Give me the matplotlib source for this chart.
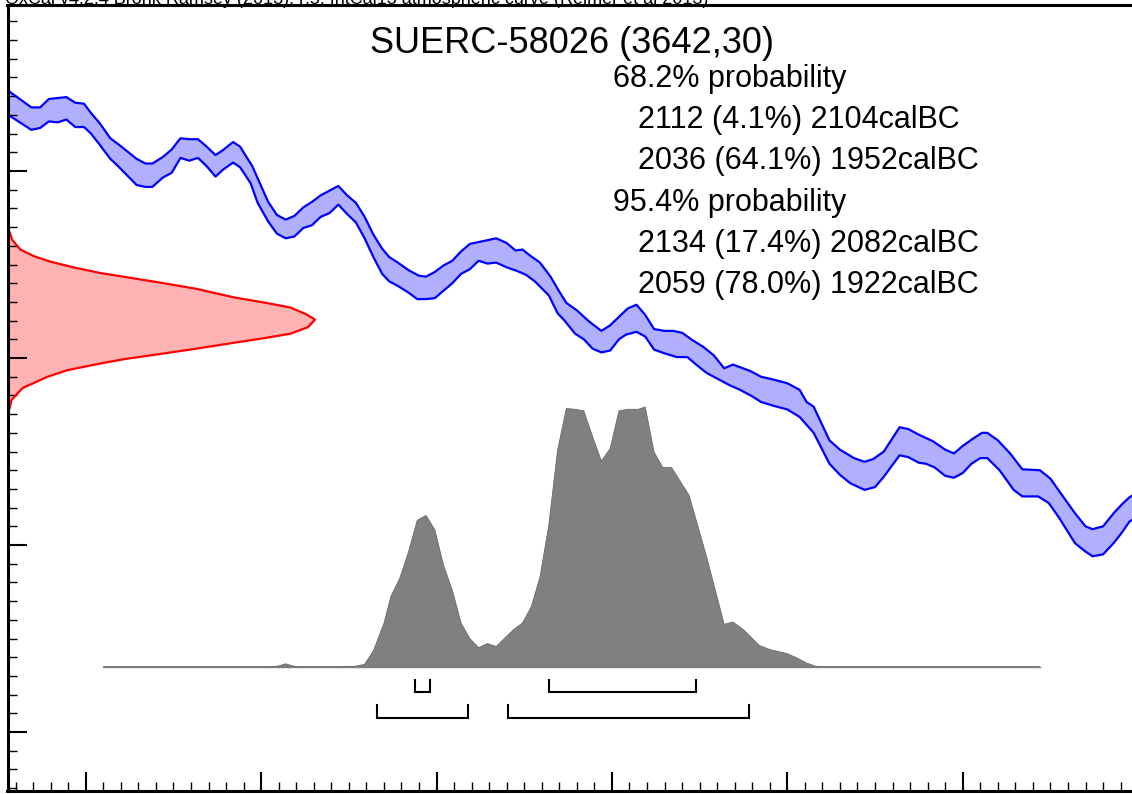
import numpy as np
import matplotlib
matplotlib.use("Agg")
import matplotlib.pyplot as plt
from matplotlib.ticker import MultipleLocator
from matplotlib.transforms import blended_transform_factory

plt.rcParams['font.family'] = ['Liberation Sans', 'DejaVu Sans']

# ================================
# Data
# ================================
lab_code = "SUERC-58026"
c14_age = 3642
c14_err = 30
header = "OxCal v4.2.4 Bronk Ramsey (2013); r:5; IntCal13 atmospheric curve (Reimer et al 2013)"

# IntCal13 band, upper edge (calBC, BP)
upper_bc = [2345, 2331, 2326, 2321, 2311, 2306, 2301, 2297, 2292, 2286,
            2281, 2271, 2266, 2262, 2256, 2251, 2246, 2241, 2236, 2231,
            2226, 2222, 2216, 2212, 2205, 2196, 2191, 2186, 2181, 2176,
            2171, 2166, 2161, 2156, 2151, 2146, 2141, 2136, 2131, 2127,
            2122, 2116, 2110, 2106, 2101, 2096, 2091, 2086, 2081, 2076,
            2071, 2066, 2060, 2055, 2051, 2047, 2041, 2035, 2030, 2026,
            2020, 2013, 2006, 2001, 1991, 1986, 1981, 1976, 1970, 1965,
            1960, 1954, 1948, 1942, 1936, 1931, 1921, 1915, 1908, 1900,
            1893, 1889, 1885, 1876, 1870, 1862, 1856, 1851, 1845, 1836,
            1831, 1825, 1817, 1810, 1805, 1800, 1794, 1789, 1786, 1780,
            1773, 1766, 1756, 1750, 1744, 1736, 1730, 1726, 1720, 1714,
            1709, 1705, 1699]
upper_bp = [3887, 3868, 3868, 3877, 3879, 3873, 3872, 3862, 3851, 3835,
            3828, 3813, 3808, 3808, 3815, 3823, 3835, 3834, 3834, 3826,
            3817, 3822, 3831, 3826, 3805, 3767, 3753, 3748, 3752, 3761,
            3767, 3774, 3779, 3784, 3774, 3766, 3751, 3732, 3717, 3708,
            3702, 3694, 3688, 3687, 3692, 3699, 3704, 3714, 3722, 3724,
            3726, 3728, 3723, 3715, 3716, 3710, 3702, 3687, 3671, 3659,
            3651, 3639, 3629, 3635, 3653, 3657, 3646, 3631, 3629, 3629,
            3627, 3619, 3612, 3603, 3589, 3593, 3586, 3580, 3577, 3573,
            3566, 3553, 3548, 3512, 3502, 3493, 3489, 3492, 3500, 3526,
            3524, 3518, 3511, 3502, 3498, 3506, 3514, 3520, 3520, 3512,
            3498, 3481, 3480, 3471, 3455, 3434, 3420, 3417, 3420, 3434,
            3444, 3451, 3458]

# IntCal13 band, lower edge (calBC, BP)
lower_bc = [2345, 2331, 2326, 2321, 2316, 2311, 2306, 2301, 2297, 2292,
            2286, 2282, 2271, 2266, 2262, 2256, 2251, 2246, 2241, 2236,
            2231, 2226, 2222, 2216, 2212, 2206, 2202, 2196, 2191, 2186,
            2181, 2176, 2171, 2166, 2161, 2156, 2151, 2146, 2141, 2136,
            2131, 2127, 2122, 2116, 2111, 2106, 2101, 2096, 2091, 2086,
            2081, 2076, 2071, 2066, 2060, 2054, 2049, 2044, 2036, 2031,
            2027, 2021, 2016, 2011, 2006, 2001, 1996, 1992, 1986, 1981,
            1976, 1970, 1963, 1957, 1952, 1946, 1940, 1933, 1927, 1920,
            1915, 1908, 1900, 1893, 1885, 1876, 1870, 1864, 1856, 1850,
            1845, 1836, 1831, 1825, 1821, 1816, 1810, 1805, 1800, 1795,
            1790, 1786, 1779, 1771, 1766, 1757, 1751, 1745, 1736, 1730,
            1726, 1720, 1714, 1709, 1705, 1699]
lower_bp = [3861, 3844, 3846, 3853, 3852, 3855, 3847, 3847, 3840, 3828,
            3813, 3806, 3785, 3783, 3783, 3793, 3798, 3814, 3811, 3814,
            3805, 3794, 3801, 3809, 3804, 3787, 3766, 3746, 3733, 3728,
            3730, 3739, 3742, 3751, 3755, 3764, 3754, 3745, 3728, 3708,
            3690, 3682, 3677, 3670, 3663, 3663, 3664, 3672, 3680, 3690,
            3695, 3704, 3701, 3702, 3697, 3693, 3689, 3682, 3667, 3648,
            3640, 3626, 3620, 3610, 3606, 3608, 3620, 3625, 3628, 3623,
            3609, 3605, 3601, 3601, 3593, 3584, 3578, 3571, 3566, 3559,
            3553, 3549, 3545, 3537, 3520, 3487, 3475, 3466, 3459, 3462,
            3473, 3496, 3494, 3488, 3487, 3483, 3474, 3472, 3477, 3487,
            3493, 3493, 3480, 3459, 3452, 3452, 3445, 3429, 3402, 3393,
            3388, 3390, 3402, 3414, 3425, 3432]

# Radiocarbon determination (BP, relative density)
meas_bp = [3523, 3539, 3555, 3562, 3568, 3573, 3580, 3587, 3594, 3599,
           3604, 3610, 3616, 3621, 3626, 3633, 3641, 3647, 3654, 3659,
           3665, 3674, 3681, 3691, 3697, 3703, 3709, 3716, 3726, 3737,
           3746, 3756]
meas_rel = [0.0, 0.001, 0.013, 0.032, 0.049, 0.084, 0.13, 0.195, 0.30, 0.383,
            0.49, 0.614, 0.73, 0.83, 0.92, 0.977, 1.0, 0.97, 0.92, 0.84,
            0.734, 0.614, 0.49, 0.30, 0.214, 0.14, 0.085, 0.042, 0.016, 0.004,
            0.001, 0.0]

# Calibrated distribution (calBC, relative probability)
cal_bc = [2290, 2195, 2190, 2186, 2182, 2178, 2155, 2146, 2141, 2136,
          2130, 2126, 2121, 2116, 2111, 2106, 2101, 2096, 2091, 2086,
          2081, 2076, 2071, 2066, 2060, 2056, 2051, 2046, 2041, 2036,
          2031, 2026, 2021, 2016, 2011, 2006, 2001, 1996, 1991, 1985,
          1981, 1976, 1971, 1966, 1956, 1946, 1936, 1931, 1925, 1916,
          1910, 1900, 1895, 1889, 1884, 1880, 1756]
cal_rel = [0.0, 0.0, 0.004, 0.012, 0.004, 0.0, 0.0, 0.003, 0.01, 0.062,
           0.167, 0.272, 0.34, 0.442, 0.564, 0.583, 0.528, 0.391, 0.295, 0.169,
           0.109, 0.074, 0.09, 0.079, 0.118, 0.144, 0.169, 0.231, 0.346, 0.545,
           0.833, 0.994, 0.991, 0.985, 0.885, 0.792, 0.84, 0.985, 0.991, 0.991,
           1.0, 0.827, 0.767, 0.767, 0.66, 0.423, 0.164, 0.173, 0.143, 0.083,
           0.067, 0.051, 0.036, 0.015, 0.003, 0.0, 0.0]

# Highest posterior density ranges
range68_from = [2112, 2036]
range68_to = [2104, 1952]
range68_pct = [4.1, 64.1]
range95_from = [2134, 2059]
range95_to = [2082, 1922]
range95_pct = [17.4, 78.0]

# ================================
# Figure
# ================================
W, H = 1132, 794
fig = plt.figure(figsize=(W / 100, H / 100), dpi=100)
ax = fig.add_axes([7.5 / W, 3 / H, 1 - 7.5 / W, 786 / H])

# calibration curve band
ax.fill(np.r_[upper_bc, lower_bc[::-1]], np.r_[upper_bp, lower_bp[::-1]],
        color='#b0b0ff', lw=0, zorder=1)
ax.plot(upper_bc, upper_bp, color='#0000ff', lw=1.6, zorder=2)
ax.plot(lower_bc, lower_bp, color='#0000ff', lw=1.6, zorder=2)

# measurement on the y axis
t_meas = blended_transform_factory(ax.transAxes, ax.transData)
meas_x = np.array(meas_rel) * 0.2735
ax.fill(meas_x, meas_bp, transform=t_meas, color='#ffb3b3', lw=0, zorder=1)
ax.plot(meas_x, meas_bp, transform=t_meas, color='#ff0000', lw=1.6, zorder=2)

# calibrated distribution at the bottom
t_cal = blended_transform_factory(ax.transData, ax.transAxes)
base, scale = 0.1578, 0.3308
ax.fill(cal_bc, base + np.array(cal_rel) * scale, transform=t_cal,
        fc='#808080', ec='#6a6a6a', lw=0.6, zorder=1)
ax.plot([cal_bc[0], cal_bc[-1]], [base, base], transform=t_cal,
        color='#808080', lw=1, zorder=1)

# range brackets
for s, e in zip(range68_from, range68_to):
    ax.plot([s, s, e, e], [0.1412, 0.1260, 0.1260, 0.1412], transform=t_cal,
            color='black', lw=1.5, solid_joinstyle='miter')
for s, e in zip(range95_from, range95_to):
    ax.plot([s, s, e, e], [0.1094, 0.0929, 0.0929, 0.1094], transform=t_cal,
            color='black', lw=1.5, solid_joinstyle='miter')

ax.set_xlim(2344.6, 1703.5)
ax.set_ylim(3137, 3977.5)

ax.xaxis.set_major_locator(MultipleLocator(100))
ax.xaxis.set_minor_locator(MultipleLocator(10))
ax.yaxis.set_major_locator(MultipleLocator(200))
ax.yaxis.set_minor_locator(MultipleLocator(20))
ax.tick_params(which='both', direction='in', labelleft=False, labelbottom=False,
               top=False, right=False)
ax.tick_params(which='major', length=14, width=1.5)
ax.tick_params(which='minor', length=6.5, width=1)

ax.spines['right'].set_visible(False)
for side in ['left', 'top', 'bottom']:
    ax.spines[side].set_linewidth(2.2)

# ================================
# Text
# ================================
# header line is cut by the top edge in the source image
fig.text(5 / W, 1 - 4 / H, header, fontsize=13, va='baseline')
fig.text(572 / W, 1 - 53 / H, f"{lab_code} ({c14_age},{c14_err})",
         ha='center', va='baseline', fontsize=26)

lines = [("68.2% probability", 613)]
for s, p, e in zip(range68_from, range68_pct, range68_to):
    lines.append((f"{s} ({p:.1f}%) {e}calBC", 638))
lines.append(("95.4% probability", 613))
for s, p, e in zip(range95_from, range95_pct, range95_to):
    lines.append((f"{s} ({p:.1f}%) {e}calBC", 638))

for i, (txt, xpix) in enumerate(lines):
    fig.text(xpix / W, 1 - (87 + 41.2 * i) / H, txt, fontsize=22, va='baseline')

fig.savefig("out.png", dpi=100)
